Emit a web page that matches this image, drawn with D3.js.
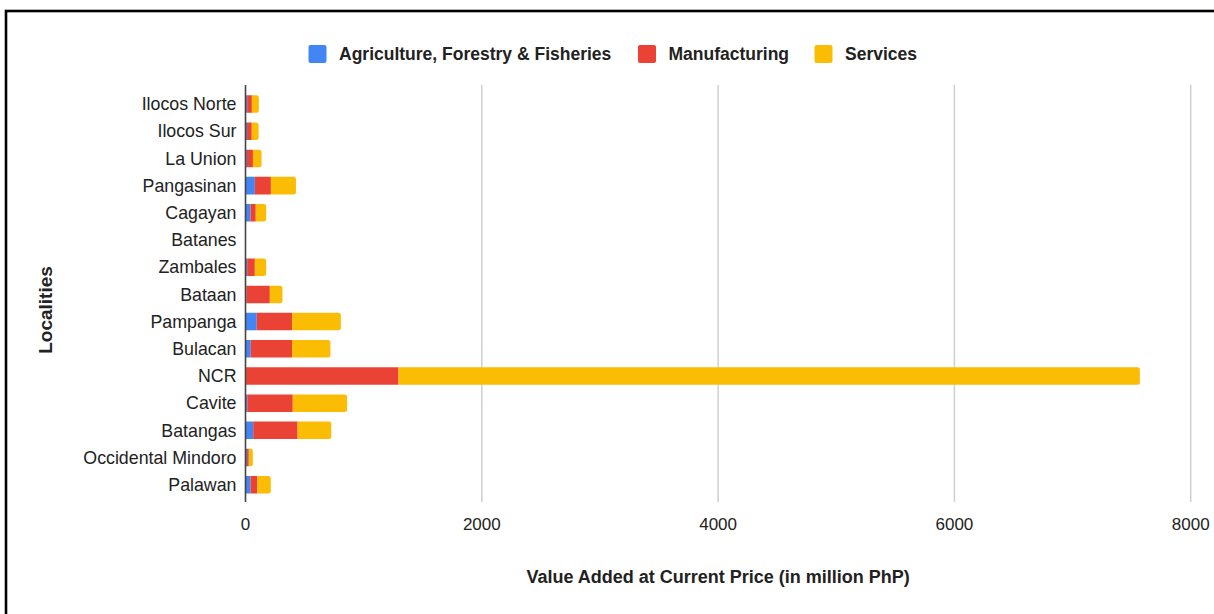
<!DOCTYPE html>
<html>
<head>
<meta charset="utf-8">
<script src="https://cdn.jsdelivr.net/npm/d3@7"></script>
<style>
  body { margin: 0; background: #fff; }
  text { font-family: "Liberation Sans", Arial, sans-serif; fill: #222; }
</style>
</head>
<body>
<script>
// chart data (million PhP)
var localities = ["Ilocos Norte", "Ilocos Sur", "La Union", "Pangasinan", "Cagayan", "Batanes",
  "Zambales", "Bataan", "Pampanga", "Bulacan", "NCR", "Cavite", "Batangas", "Occidental Mindoro", "Palawan"];
var agriculture = [14, 13, 12, 79, 42, 0.5, 14, 8, 95, 44, 5, 15, 65, 13, 42];
var manufacturing = [40, 40, 51, 136, 45, 0.3, 65, 198, 300, 350, 1290, 385, 376, 15, 59];
var services = [59, 58, 73, 212, 88, 0.8, 96, 107, 412, 325, 6275, 460, 285, 34, 113];
var seriesNames = ["Agriculture, Forestry & Fisheries", "Manufacturing", "Services"];
var seriesColors = ["#4285f4", "#ea4335", "#fbbc04"];
var xTicks = [0, 2000, 4000, 6000, 8000];

var svgWidth = 1214, svgHeight = 614;
var margin = { top: 85, right: 23.3, bottom: 112, left: 245.5 };
var width = svgWidth - margin.left - margin.right;
var height = svgHeight - margin.top - margin.bottom;

var svg = d3.select("body").append("svg")
  .attr("width", svgWidth)
  .attr("height", svgHeight);

svg.append("rect").attr("width", svgWidth).attr("height", svgHeight).attr("fill", "#fff");

// black frame (only top and left edges fall inside the picture)
svg.append("rect")
  .attr("x", 6).attr("y", 11)
  .attr("width", 1230).attr("height", 630)
  .attr("fill", "none").attr("stroke", "#000").attr("stroke-width", 2.6);

var chartGroup = svg.append("g")
  .attr("transform", `translate(${margin.left}, ${margin.top})`);

// scales
var xScale = d3.scaleLinear().domain([0, 8000]).range([0, width]);
var yScale = d3.scaleBand().domain(localities).range([5.4, height - 3.6]).paddingInner(0.355).paddingOuter(0.18);

// stack the three series
var rows = localities.map(function(name, i) {
  return { name: name, agri: agriculture[i], manu: manufacturing[i], serv: services[i] };
});
var stack = d3.stack().keys(["agri", "manu", "serv"]);
var layers = stack(rows);

// gridlines
chartGroup.selectAll(".grid")
  .data(xTicks.slice(1))
  .enter()
  .append("line")
  .attr("x1", d => xScale(d)).attr("x2", d => xScale(d))
  .attr("y1", 0).attr("y2", height)
  .attr("stroke", "#cfcfcf").attr("stroke-width", 1.5);

// bars: last segment of each stack gets rounded right corners
function segPath(x0, x1, y, h, r) {
  if (x1 - x0 < 2 * r) r = Math.max(0, (x1 - x0) / 2);
  return `M${x0},${y}H${x1 - r}Q${x1},${y} ${x1},${y + r}V${y + h - r}Q${x1},${y + h} ${x1 - r},${y + h}H${x0}Z`;
}

layers.forEach(function(layer, li) {
  chartGroup.selectAll(null)
    .data(layer)
    .enter()
    .append("path")
    .attr("fill", seriesColors[li])
    .attr("d", function(d) {
      var x0 = xScale(d[0]), x1 = xScale(d[1]);
      var r = li === layers.length - 1 ? 2.5 : 0;
      return segPath(x0, x1, yScale(d.data.name), yScale.bandwidth(), r);
    });
});

// left axis line
chartGroup.append("line")
  .attr("x1", 0).attr("x2", 0).attr("y1", 0).attr("y2", height)
  .attr("stroke", "#444").attr("stroke-width", 1.6);

// category labels
chartGroup.selectAll(".cat")
  .data(localities)
  .enter()
  .append("text")
  .attr("x", -9)
  .attr("y", d => yScale(d) + yScale.bandwidth() / 2)
  .attr("dy", "0.35em")
  .attr("text-anchor", "end")
  .attr("font-size", "17.8px")
  .text(d => d);

// x tick labels
chartGroup.selectAll(".tick")
  .data(xTicks)
  .enter()
  .append("text")
  .attr("x", d => xScale(d))
  .attr("y", height + 22)
  .attr("dy", "0.35em")
  .attr("text-anchor", "middle")
  .attr("font-size", "17px")
  .text(d => d);

// axis titles
chartGroup.append("text")
  .attr("x", width / 2)
  .attr("y", height + 75)
  .attr("dy", "0.35em")
  .attr("text-anchor", "middle")
  .attr("font-size", "18px")
  .attr("font-weight", "bold")
  .text("Value Added at Current Price (in million PhP)");

svg.append("text")
  .attr("transform", "translate(45, 310) rotate(-90)")
  .attr("dy", "0.35em")
  .attr("text-anchor", "middle")
  .attr("font-size", "19px")
  .attr("font-weight", "bold")
  .text("Localities");

// legend
var legendX = [308.5, 638, 814.5];
var legend = svg.selectAll(".legend")
  .data(seriesNames)
  .enter()
  .append("g")
  .attr("transform", (d, i) => `translate(${legendX[i]}, 54)`);

legend.append("rect")
  .attr("x", 0).attr("y", -9)
  .attr("width", 18).attr("height", 18)
  .attr("rx", 2)
  .attr("fill", (d, i) => seriesColors[i]);

legend.append("text")
  .attr("x", 30.5)
  .attr("dy", "0.35em")
  .attr("font-size", "17.5px")
  .attr("font-weight", "bold")
  .text(d => d);
</script>
</body>
</html>
